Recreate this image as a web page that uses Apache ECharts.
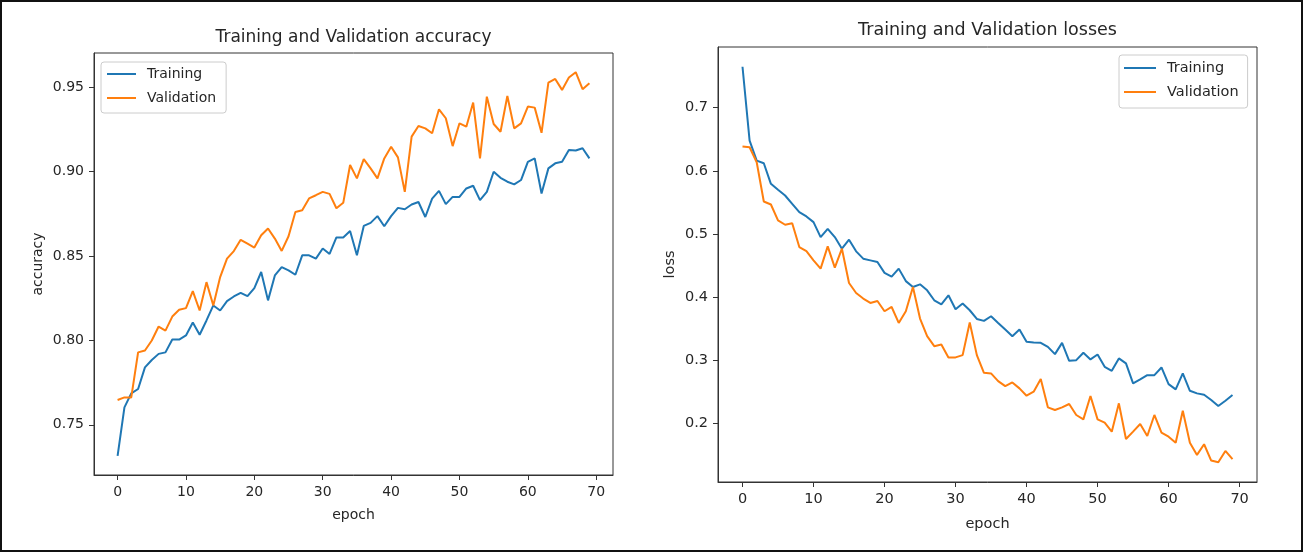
<!DOCTYPE html>
<html>
<head>
<meta charset="utf-8">
<script src="https://cdn.jsdelivr.net/npm/echarts@6/dist/echarts.min.js"></script>
<style>
  html, body { margin: 0; padding: 0; background: #fff; }
  #chart { width: 1303px; height: 552px; }
</style>
</head>
<body>
<div id="chart"></div>
<script>
// Epoch numbers shared by both panels
const epochs = [0,1,2,3,4,5,6,7,8,9,10,11,12,13,14,15,16,17,18,19,20,21,22,23,24,25,26,27,28,29,
  30,31,32,33,34,35,36,37,38,39,40,41,42,43,44,45,46,47,48,49,50,51,52,53,54,55,56,57,58,59,
  60,61,62,63,64,65,66,67,68,69];

// Accuracy per epoch
const accTraining = [0.7316,0.7603,0.7686,0.7712,0.7840,0.7884,0.7920,0.7929,0.8005,0.8005,
  0.8029,0.8106,0.8033,0.8118,0.8207,0.8177,0.8233,0.8260,0.8282,0.8262,
  0.8310,0.8405,0.8237,0.8385,0.8434,0.8415,0.8389,0.8504,0.8504,0.8484,
  0.8544,0.8512,0.8610,0.8610,0.8648,0.8504,0.8678,0.8696,0.8736,0.8676,
  0.8736,0.8785,0.8777,0.8805,0.8820,0.8731,0.8840,0.8886,0.8807,0.8850,
  0.8850,0.8900,0.8916,0.8831,0.8880,0.8999,0.8963,0.8940,0.8924,0.8950,
  0.9058,0.9078,0.8870,0.9019,0.9049,0.9058,0.9128,0.9125,0.9138,0.9078];
const accValidation = [0.7647,0.7662,0.7662,0.7929,0.7940,0.7999,0.8082,0.8058,0.8141,0.8181,
  0.8191,0.8292,0.8177,0.8345,0.8207,0.8375,0.8484,0.8529,0.8596,0.8573,
  0.8550,0.8623,0.8663,0.8603,0.8530,0.8617,0.8761,0.8771,0.8841,0.8860,
  0.8880,0.8868,0.8783,0.8815,0.9039,0.8960,0.9074,0.9019,0.8960,0.9078,
  0.9147,0.9084,0.8880,0.9207,0.9270,0.9256,0.9227,0.9369,0.9316,0.9151,
  0.9286,0.9266,0.9409,0.9078,0.9444,0.9282,0.9236,0.9448,0.9256,0.9286,
  0.9385,0.9379,0.9230,0.9527,0.9549,0.9484,0.9557,0.9589,0.9488,0.9524];

// Loss per epoch
const lossTraining = [0.7649,0.6478,0.6161,0.6119,0.5793,0.5698,0.5608,0.5476,0.5343,0.5275,
  0.5185,0.4948,0.5080,0.4948,0.4764,0.4907,0.4722,0.4606,0.4579,0.4552,
  0.4380,0.4320,0.4448,0.4250,0.4157,0.4199,0.4104,0.3946,0.3883,0.4025,
  0.3804,0.3894,0.3788,0.3650,0.3619,0.3693,0.3587,0.3482,0.3377,0.3482,
  0.3287,0.3277,0.3272,0.3208,0.3092,0.3271,0.2986,0.2997,0.3113,0.3008,
  0.3087,0.2891,0.2828,0.3024,0.2945,0.2628,0.2691,0.2759,0.2759,0.2881,
  0.2617,0.2533,0.2786,0.2511,0.2470,0.2448,0.2364,0.2269,0.2353,0.2443];
const lossValidation = [0.6383,0.6372,0.6135,0.5513,0.5465,0.5212,0.5144,0.5169,0.4790,0.4726,
  0.4579,0.4448,0.4801,0.4464,0.4764,0.4220,0.4062,0.3973,0.3904,0.3935,
  0.3772,0.3840,0.3587,0.3772,0.4157,0.3656,0.3377,0.3218,0.3245,0.3040,
  0.3040,0.3076,0.3595,0.3076,0.2796,0.2786,0.2665,0.2585,0.2644,0.2549,
  0.2433,0.2496,0.2696,0.2248,0.2206,0.2248,0.2301,0.2127,0.2058,0.2427,
  0.2058,0.2005,0.1863,0.2312,0.1747,0.1863,0.1984,0.1794,0.2127,0.1847,
  0.1783,0.1688,0.2195,0.1688,0.1494,0.1663,0.1404,0.1378,0.1557,0.1426];

// Tick positions
const xTicks = [0, 10, 20, 30, 40, 50, 60, 70];
const accTicks = [0.75, 0.80, 0.85, 0.90, 0.95];
const lossTicks = [0.2, 0.3, 0.4, 0.5, 0.6, 0.7];

const BLUE = '#1f77b4';
const ORANGE = '#ff7f0e';
const FONT = '"DejaVu Sans", sans-serif';
const INK = '#262626';

// Axis range padded by 5% of the data span on each side
function padded(arrays) {
  let lo = Infinity, hi = -Infinity;
  arrays.forEach(a => a.forEach(v => { lo = Math.min(lo, v); hi = Math.max(hi, v); }));
  const m = (hi - lo) * 0.05;
  return [lo - m, hi + m];
}
const xRange = padded([epochs]);
const accRange = padded([accTraining, accValidation]);
const lossRange = padded([lossTraining, lossValidation]);

const pairs = ys => epochs.map((e, i) => [e, ys[i]]);

function xAxisFor(gridIndex, nameGap, fs) {
  return {
    type: 'value', gridIndex, min: xRange[0], max: xRange[1],
    name: 'epoch', nameLocation: 'middle', nameGap,
    nameTextStyle: { fontFamily: FONT, fontSize: fs, color: INK },
    axisLine: { show: true, onZero: false, lineStyle: { color: '#333', width: 1 } },
    axisTick: { show: true, inside: false, length: 5, customValues: xTicks, lineStyle: { color: '#333' } },
    axisLabel: { customValues: xTicks, margin: 10, fontFamily: FONT, fontSize: fs, color: INK,
                 formatter: v => String(Math.round(v)) },
    splitLine: { show: false }
  };
}
function yAxisFor(gridIndex, range, ticks, digits, name, nameGap, fs) {
  return {
    type: 'value', gridIndex, min: range[0], max: range[1],
    name, nameLocation: 'middle', nameGap,
    nameTextStyle: { fontFamily: FONT, fontSize: fs, color: INK },
    axisLine: { show: true, onZero: false, lineStyle: { color: '#333', width: 1 } },
    axisTick: { show: true, inside: false, length: 5, customValues: ticks, lineStyle: { color: '#333' } },
    axisLabel: { customValues: ticks, margin: 10, fontFamily: FONT, fontSize: fs, color: INK,
                 formatter: v => v.toFixed(digits) },
    splitLine: { show: false }
  };
}
function lineSeries(name, ys, color, idx) {
  return {
    name, type: 'line', xAxisIndex: idx, yAxisIndex: idx,
    data: pairs(ys), showSymbol: false, symbol: 'none', smooth: false,
    lineStyle: { color, width: 2 }, itemStyle: { color }, animation: false
  };
}
function legendFor(left, top, itemWidth, padding, fs) {
  return {
    orient: 'vertical', left, top, padding, itemGap: 8,
    itemWidth, itemHeight: 2, icon: 'rect',
    backgroundColor: 'rgba(255,255,255,0.8)', borderColor: '#cccccc', borderWidth: 1, borderRadius: 3,
    textStyle: { fontFamily: FONT, fontSize: fs, color: INK, lineHeight: 16, padding: [0, 0, 0, 6] },
    selectedMode: false,
    data: ['Training', 'Validation']
  };
}

const chart = echarts.init(document.getElementById('chart'), null, { renderer: 'canvas' });
chart.setOption({
  backgroundColor: '#fff',
  animation: false,
  grid: [
    { left: 94, top: 53, width: 519, height: 422, show: true, borderColor: '#333', borderWidth: 1, backgroundColor: 'transparent' },
    { left: 718, top: 47, width: 539, height: 435, show: true, borderColor: '#333', borderWidth: 1, backgroundColor: 'transparent' }
  ],
  xAxis: [xAxisFor(0, 33, 14), xAxisFor(1, 35, 14.5)],
  yAxis: [
    yAxisFor(0, accRange, accTicks, 2, 'accuracy', 49, 14),
    yAxisFor(1, lossRange, lossTicks, 1, 'loss', 40, 14.5)
  ],
  legend: [
    legendFor(101, 62, 29, [4, 10, 7, 6], 14),
    legendFor(1119, 55, 32, [5, 9, 8, 5], 14.5)
  ],
  series: [
    lineSeries('Training', accTraining, BLUE, 0),
    lineSeries('Validation', accValidation, ORANGE, 0),
    lineSeries('Training', lossTraining, BLUE, 1),
    lineSeries('Validation', lossValidation, ORANGE, 1)
  ],
  graphic: [
    { type: 'rect', shape: { x: 1, y: 1, width: 1301, height: 550 },
      style: { fill: 'none', stroke: '#111', lineWidth: 2 }, silent: true, z: 100 },
    { type: 'text', x: 353.5, y: 38, silent: true,
      style: { text: 'Training and Validation accuracy', fontFamily: FONT, fontSize: 17, fill: INK,
               textAlign: 'center', textVerticalAlign: 'middle' } },
    { type: 'text', x: 987.5, y: 30, silent: true,
      style: { text: 'Training and Validation losses', fontFamily: FONT, fontSize: 17.5, fill: INK,
               textAlign: 'center', textVerticalAlign: 'middle' } }
  ]
});
</script>
</body>
</html>
